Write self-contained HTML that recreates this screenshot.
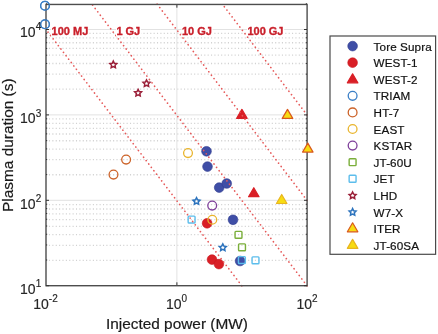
<!DOCTYPE html><html><head><meta charset="utf-8"><style>
html,body{margin:0;padding:0;background:#fff;width:438px;height:334px;overflow:hidden}
svg{display:block;filter:blur(0.35px)}
text{font-family:"Liberation Sans",sans-serif}
</style></head><body>
<svg width="438" height="334" viewBox="0 0 438 334">
<rect width="438" height="334" fill="#fff"/>
<g stroke="#d2d2d2" stroke-width="1.3" stroke-dasharray="1.1 2.276" stroke-dashoffset="0.426"><line x1="46.0" y1="260.39" x2="307.0" y2="260.39"/><line x1="46.0" y1="245.35" x2="307.0" y2="245.35"/><line x1="46.0" y1="234.68" x2="307.0" y2="234.68"/><line x1="46.0" y1="226.41" x2="307.0" y2="226.41"/><line x1="46.0" y1="219.65" x2="307.0" y2="219.65"/><line x1="46.0" y1="213.93" x2="307.0" y2="213.93"/><line x1="46.0" y1="208.98" x2="307.0" y2="208.98"/><line x1="46.0" y1="204.61" x2="307.0" y2="204.61"/><line x1="46.0" y1="174.74" x2="307.0" y2="174.74"/><line x1="46.0" y1="159.70" x2="307.0" y2="159.70"/><line x1="46.0" y1="149.03" x2="307.0" y2="149.03"/><line x1="46.0" y1="140.76" x2="307.0" y2="140.76"/><line x1="46.0" y1="134.00" x2="307.0" y2="134.00"/><line x1="46.0" y1="128.28" x2="307.0" y2="128.28"/><line x1="46.0" y1="123.33" x2="307.0" y2="123.33"/><line x1="46.0" y1="118.96" x2="307.0" y2="118.96"/><line x1="46.0" y1="89.19" x2="307.0" y2="89.19"/><line x1="46.0" y1="74.15" x2="307.0" y2="74.15"/><line x1="46.0" y1="63.48" x2="307.0" y2="63.48"/><line x1="46.0" y1="55.21" x2="307.0" y2="55.21"/><line x1="46.0" y1="48.45" x2="307.0" y2="48.45"/><line x1="46.0" y1="42.73" x2="307.0" y2="42.73"/><line x1="46.0" y1="37.78" x2="307.0" y2="37.78"/><line x1="46.0" y1="33.41" x2="307.0" y2="33.41"/></g>
<g stroke="#e2e2e2" stroke-width="1"><line x1="46.0" y1="200.30" x2="307.0" y2="200.30"/><line x1="46.0" y1="114.90" x2="307.0" y2="114.90"/><line x1="46.0" y1="29.50" x2="307.0" y2="29.50"/><line x1="176.90" y1="3.792038370295984" x2="176.90" y2="285.7"/></g>
<circle cx="126.1" cy="159.6" r="4.4" fill="none" stroke="#cc6228" stroke-width="1.3"/><circle cx="113.5" cy="174.6" r="4.4" fill="none" stroke="#cc6228" stroke-width="1.3"/><polygon points="113.30,61.05 114.37,63.22 116.77,63.57 115.04,65.26 115.45,67.65 113.30,66.53 111.15,67.65 111.56,65.26 109.83,63.57 112.23,63.22" fill="none" stroke="#9a1f38" stroke-width="1.5" stroke-linejoin="miter"/><polygon points="146.50,79.85 147.57,82.02 149.97,82.37 148.24,84.06 148.65,86.45 146.50,85.33 144.35,86.45 144.76,84.06 143.03,82.37 145.43,82.02" fill="none" stroke="#9a1f38" stroke-width="1.5" stroke-linejoin="miter"/><polygon points="138.10,89.35 139.17,91.52 141.57,91.87 139.84,93.56 140.25,95.95 138.10,94.83 135.95,95.95 136.36,93.56 134.63,91.87 137.03,91.52" fill="none" stroke="#9a1f38" stroke-width="1.5" stroke-linejoin="miter"/><circle cx="206.5" cy="151.3" r="4.85" fill="#3f4ea6" stroke="#2f3a8f" stroke-width="0.6"/><circle cx="207.5" cy="166.6" r="4.85" fill="#3f4ea6" stroke="#2f3a8f" stroke-width="0.6"/><circle cx="219.2" cy="187.6" r="4.85" fill="#3f4ea6" stroke="#2f3a8f" stroke-width="0.6"/><circle cx="226.7" cy="183.5" r="4.85" fill="#3f4ea6" stroke="#2f3a8f" stroke-width="0.6"/><circle cx="233" cy="219.8" r="4.85" fill="#3f4ea6" stroke="#2f3a8f" stroke-width="0.6"/><circle cx="240.1" cy="261" r="4.85" fill="#3f4ea6" stroke="#2f3a8f" stroke-width="0.6"/><circle cx="207.1" cy="223.3" r="4.85" fill="#d91f26" stroke="#c8141c" stroke-width="0.6"/><circle cx="212" cy="259.6" r="4.85" fill="#d91f26" stroke="#c8141c" stroke-width="0.6"/><circle cx="218.9" cy="264.1" r="4.85" fill="#d91f26" stroke="#c8141c" stroke-width="0.6"/><circle cx="188" cy="153.1" r="4.4" fill="none" stroke="#e9b52e" stroke-width="1.3"/><circle cx="212.3" cy="219.8" r="4.4" fill="none" stroke="#e9b52e" stroke-width="1.3"/><circle cx="212.2" cy="205.6" r="4.4" fill="none" stroke="#7e3f9a" stroke-width="1.3"/><polygon points="196.50,197.65 197.57,199.82 199.97,200.17 198.24,201.86 198.65,204.25 196.50,203.12 194.35,204.25 194.76,201.86 193.03,200.17 195.43,199.82" fill="none" stroke="#2c73bd" stroke-width="1.5" stroke-linejoin="miter"/><polygon points="222.80,243.95 223.87,246.12 226.27,246.47 224.54,248.16 224.95,250.55 222.80,249.43 220.65,250.55 221.06,248.16 219.33,246.47 221.73,246.12" fill="none" stroke="#2c73bd" stroke-width="1.5" stroke-linejoin="miter"/><rect x="235.05" y="231.35" width="6.9" height="6.9" rx="0.8" fill="none" stroke="#7aae3a" stroke-width="1.4"/><rect x="238.55" y="243.85" width="6.9" height="6.9" rx="0.8" fill="none" stroke="#7aae3a" stroke-width="1.4"/><rect x="188.15" y="216.15" width="6.9" height="6.9" rx="0.8" fill="none" stroke="#5cbdec" stroke-width="1.4"/><rect x="238.45" y="256.65" width="6.9" height="6.9" rx="0.8" fill="none" stroke="#5cbdec" stroke-width="1.4"/><rect x="252.05" y="256.85" width="6.9" height="6.9" rx="0.8" fill="none" stroke="#5cbdec" stroke-width="1.4"/><path d="M241.90 109.40L247.15 118.40L236.65 118.40Z" fill="#d91f26" stroke="#d91f26" stroke-width="1.2" stroke-linejoin="round"/><path d="M253.80 187.70L259.05 196.70L248.55 196.70Z" fill="#d91f26" stroke="#d91f26" stroke-width="1.2" stroke-linejoin="round"/><path d="M281.70 194.50L286.95 203.50L276.45 203.50Z" fill="#f7dc12" stroke="#e8b520" stroke-width="1.2" stroke-linejoin="round"/><circle cx="45" cy="5.8" r="4.4" fill="none" stroke="#3b7fc6" stroke-width="1.3"/><circle cx="45" cy="24.2" r="4.4" fill="none" stroke="#3b7fc6" stroke-width="1.3"/>
<g stroke="#e65a5a" stroke-width="1.75" stroke-dasharray="0.01 4.245" stroke-dashoffset="0" stroke-linecap="round"><line x2="46.00" y2="29.50" x1="241.75" y1="285.70"/><line x2="91.61" y2="3.79" x1="307.00" y1="285.70"/><line x2="156.86" y2="3.79" x1="307.00" y1="200.30"/><line x2="222.11" y2="3.79" x1="307.00" y1="114.90"/></g>
<rect x="46.0" y="4.45" width="261.1" height="281.25" fill="none" stroke="#4d4d4d" stroke-width="1.4"/>
<g stroke="#333" stroke-width="1"><line x1="46.0" y1="285.70" x2="49.0" y2="285.70"/><line x1="307.0" y1="285.70" x2="304.0" y2="285.70"/><line x1="46.0" y1="259.99" x2="47.2" y2="259.99"/><line x1="307.0" y1="259.99" x2="305.8" y2="259.99"/><line x1="46.0" y1="244.95" x2="47.2" y2="244.95"/><line x1="307.0" y1="244.95" x2="305.8" y2="244.95"/><line x1="46.0" y1="234.28" x2="47.2" y2="234.28"/><line x1="307.0" y1="234.28" x2="305.8" y2="234.28"/><line x1="46.0" y1="226.01" x2="47.2" y2="226.01"/><line x1="307.0" y1="226.01" x2="305.8" y2="226.01"/><line x1="46.0" y1="219.25" x2="47.2" y2="219.25"/><line x1="307.0" y1="219.25" x2="305.8" y2="219.25"/><line x1="46.0" y1="213.53" x2="47.2" y2="213.53"/><line x1="307.0" y1="213.53" x2="305.8" y2="213.53"/><line x1="46.0" y1="208.58" x2="47.2" y2="208.58"/><line x1="307.0" y1="208.58" x2="305.8" y2="208.58"/><line x1="46.0" y1="204.21" x2="47.2" y2="204.21"/><line x1="307.0" y1="204.21" x2="305.8" y2="204.21"/><line x1="46.0" y1="200.30" x2="49.0" y2="200.30"/><line x1="307.0" y1="200.30" x2="304.0" y2="200.30"/><line x1="46.0" y1="174.59" x2="47.2" y2="174.59"/><line x1="307.0" y1="174.59" x2="305.8" y2="174.59"/><line x1="46.0" y1="159.55" x2="47.2" y2="159.55"/><line x1="307.0" y1="159.55" x2="305.8" y2="159.55"/><line x1="46.0" y1="148.88" x2="47.2" y2="148.88"/><line x1="307.0" y1="148.88" x2="305.8" y2="148.88"/><line x1="46.0" y1="140.61" x2="47.2" y2="140.61"/><line x1="307.0" y1="140.61" x2="305.8" y2="140.61"/><line x1="46.0" y1="133.85" x2="47.2" y2="133.85"/><line x1="307.0" y1="133.85" x2="305.8" y2="133.85"/><line x1="46.0" y1="128.13" x2="47.2" y2="128.13"/><line x1="307.0" y1="128.13" x2="305.8" y2="128.13"/><line x1="46.0" y1="123.18" x2="47.2" y2="123.18"/><line x1="307.0" y1="123.18" x2="305.8" y2="123.18"/><line x1="46.0" y1="118.81" x2="47.2" y2="118.81"/><line x1="307.0" y1="118.81" x2="305.8" y2="118.81"/><line x1="46.0" y1="114.90" x2="49.0" y2="114.90"/><line x1="307.0" y1="114.90" x2="304.0" y2="114.90"/><line x1="46.0" y1="89.19" x2="47.2" y2="89.19"/><line x1="307.0" y1="89.19" x2="305.8" y2="89.19"/><line x1="46.0" y1="74.15" x2="47.2" y2="74.15"/><line x1="307.0" y1="74.15" x2="305.8" y2="74.15"/><line x1="46.0" y1="63.48" x2="47.2" y2="63.48"/><line x1="307.0" y1="63.48" x2="305.8" y2="63.48"/><line x1="46.0" y1="55.21" x2="47.2" y2="55.21"/><line x1="307.0" y1="55.21" x2="305.8" y2="55.21"/><line x1="46.0" y1="48.45" x2="47.2" y2="48.45"/><line x1="307.0" y1="48.45" x2="305.8" y2="48.45"/><line x1="46.0" y1="42.73" x2="47.2" y2="42.73"/><line x1="307.0" y1="42.73" x2="305.8" y2="42.73"/><line x1="46.0" y1="37.78" x2="47.2" y2="37.78"/><line x1="307.0" y1="37.78" x2="305.8" y2="37.78"/><line x1="46.0" y1="33.41" x2="47.2" y2="33.41"/><line x1="307.0" y1="33.41" x2="305.8" y2="33.41"/><line x1="46.0" y1="29.50" x2="49.0" y2="29.50"/><line x1="307.0" y1="29.50" x2="304.0" y2="29.50"/><line x1="46.0" y1="3.79" x2="47.2" y2="3.79"/><line x1="307.0" y1="3.79" x2="305.8" y2="3.79"/><line x1="176.9" y1="285" x2="176.9" y2="282.3"/><line x1="176.9" y1="5" x2="176.9" y2="7.7"/></g>
<path d="M287.50 109.40L292.75 118.40L282.25 118.40Z" fill="#f7dc12" stroke="#d9581c" stroke-width="1.2" stroke-linejoin="round"/><path d="M307.80 143.10L313.05 152.10L302.55 152.10Z" fill="#f7dc12" stroke="#d9581c" stroke-width="1.2" stroke-linejoin="round"/>
<circle cx="45" cy="5.8" r="4.4" fill="none" stroke="#3b7fc6" stroke-width="1.3"/><circle cx="45" cy="24.2" r="4.4" fill="none" stroke="#3b7fc6" stroke-width="1.3"/>
<rect x="51.2" y="25" width="37.0" height="11" fill="#fff"/>
<text x="51.6" y="34.7" font-size="11" font-weight="bold" fill="#c91f2a" stroke="#c91f2a" stroke-width="0.35">100 MJ</text>
<rect x="116" y="25" width="25.0" height="11" fill="#fff"/>
<text x="116.4" y="34.7" font-size="11" font-weight="bold" fill="#c91f2a" stroke="#c91f2a" stroke-width="0.35">1 GJ</text>
<rect x="181.6" y="25" width="31.1" height="11" fill="#fff"/>
<text x="182.0" y="34.7" font-size="11" font-weight="bold" fill="#c91f2a" stroke="#c91f2a" stroke-width="0.35">10 GJ</text>
<rect x="247" y="25" width="37.1" height="11" fill="#fff"/>
<text x="247.4" y="34.7" font-size="11" font-weight="bold" fill="#c91f2a" stroke="#c91f2a" stroke-width="0.35">100 GJ</text>
<text x="41.2" y="293.9" font-size="14" fill="#262626" stroke="#262626" stroke-width="0.15" text-anchor="end">10<tspan dy="-6.6" font-size="10">1</tspan></text>
<text x="41.2" y="208.49999999999997" font-size="14" fill="#262626" stroke="#262626" stroke-width="0.15" text-anchor="end">10<tspan dy="-6.6" font-size="10">2</tspan></text>
<text x="41.2" y="123.09999999999998" font-size="14" fill="#262626" stroke="#262626" stroke-width="0.15" text-anchor="end">10<tspan dy="-6.6" font-size="10">3</tspan></text>
<text x="41.2" y="36.699999999999946" font-size="14" fill="#262626" stroke="#262626" stroke-width="0.15" text-anchor="end">10<tspan dy="-6.6" font-size="10">4</tspan></text>
<text x="45.5" y="308.5" font-size="14" fill="#262626" stroke="#262626" stroke-width="0.15" text-anchor="middle">10<tspan dy="-6.6" font-size="10">-2</tspan></text>
<text x="176.5" y="308.5" font-size="14" fill="#262626" stroke="#262626" stroke-width="0.15" text-anchor="middle">10<tspan dy="-6.6" font-size="10">0</tspan></text>
<text x="307" y="308.5" font-size="14" fill="#262626" stroke="#262626" stroke-width="0.15" text-anchor="middle">10<tspan dy="-6.6" font-size="10">2</tspan></text>
<text x="176.9" y="328.7" font-size="15.4" fill="#1a1a1a" stroke="#1a1a1a" stroke-width="0.2" text-anchor="middle">Injected power (MW)</text>
<text transform="translate(12.6 145.2) rotate(-90)" font-size="15.4" fill="#1a1a1a" stroke="#1a1a1a" stroke-width="0.2" text-anchor="middle">Plasma duration (s)</text>
<rect x="330" y="36" width="105.6" height="218.3" fill="#fff" stroke="#4a4a4a" stroke-width="1.2"/>
<circle cx="352.6" cy="46.1" r="4.85" fill="#3f4ea6" stroke="#2f3a8f" stroke-width="0.6"/>
<text x="373.6" y="50.70" font-size="11.7" letter-spacing="0.1" fill="#111" stroke="#111" stroke-width="0.2">Tore Supra</text>
<circle cx="352.6" cy="62.68" r="4.85" fill="#d91f26" stroke="#c8141c" stroke-width="0.6"/>
<text x="373.6" y="67.28" font-size="11.7" letter-spacing="0.1" fill="#111" stroke="#111" stroke-width="0.2">WEST-1</text>
<path d="M352.60 73.86L357.85 82.86L347.35 82.86Z" fill="#d91f26" stroke="#d91f26" stroke-width="1.2" stroke-linejoin="round"/>
<text x="373.6" y="83.86" font-size="11.7" letter-spacing="0.1" fill="#111" stroke="#111" stroke-width="0.2">WEST-2</text>
<circle cx="352.6" cy="95.84" r="4.4" fill="none" stroke="#3b7fc6" stroke-width="1.3"/>
<text x="373.6" y="100.44" font-size="11.7" letter-spacing="0.1" fill="#111" stroke="#111" stroke-width="0.2">TRIAM</text>
<circle cx="352.6" cy="112.41999999999999" r="4.4" fill="none" stroke="#cc6228" stroke-width="1.3"/>
<text x="373.6" y="117.02" font-size="11.7" letter-spacing="0.1" fill="#111" stroke="#111" stroke-width="0.2">HT-7</text>
<circle cx="352.6" cy="129.0" r="4.4" fill="none" stroke="#e9b52e" stroke-width="1.3"/>
<text x="373.6" y="133.60" font-size="11.7" letter-spacing="0.1" fill="#111" stroke="#111" stroke-width="0.2">EAST</text>
<circle cx="352.6" cy="145.57999999999998" r="4.4" fill="none" stroke="#7e3f9a" stroke-width="1.3"/>
<text x="373.6" y="150.18" font-size="11.7" letter-spacing="0.1" fill="#111" stroke="#111" stroke-width="0.2">KSTAR</text>
<rect x="349.15" y="158.71" width="6.9" height="6.9" rx="0.8" fill="none" stroke="#7aae3a" stroke-width="1.4"/>
<text x="373.6" y="166.76" font-size="11.7" letter-spacing="0.1" fill="#111" stroke="#111" stroke-width="0.2">JT-60U</text>
<rect x="349.15" y="175.29" width="6.9" height="6.9" rx="0.8" fill="none" stroke="#5cbdec" stroke-width="1.4"/>
<text x="373.6" y="183.34" font-size="11.7" letter-spacing="0.1" fill="#111" stroke="#111" stroke-width="0.2">JET</text>
<polygon points="352.60,191.97 353.67,194.14 356.07,194.49 354.34,196.18 354.75,198.57 352.60,197.44 350.45,198.57 350.86,196.18 349.13,194.49 351.53,194.14" fill="none" stroke="#9a1f38" stroke-width="1.5" stroke-linejoin="miter"/>
<text x="373.6" y="199.92" font-size="11.7" letter-spacing="0.1" fill="#111" stroke="#111" stroke-width="0.2">LHD</text>
<polygon points="352.60,208.55 353.67,210.72 356.07,211.07 354.34,212.76 354.75,215.15 352.60,214.02 350.45,215.15 350.86,212.76 349.13,211.07 351.53,210.72" fill="none" stroke="#2c73bd" stroke-width="1.5" stroke-linejoin="miter"/>
<text x="373.6" y="216.50" font-size="11.7" letter-spacing="0.1" fill="#111" stroke="#111" stroke-width="0.2">W7-X</text>
<path d="M352.60 222.78L357.85 231.78L347.35 231.78Z" fill="#f7dc12" stroke="#d9581c" stroke-width="1.2" stroke-linejoin="round"/>
<text x="373.6" y="233.08" font-size="11.7" letter-spacing="0.1" fill="#111" stroke="#111" stroke-width="0.2">ITER</text>
<path d="M352.60 239.36L357.85 248.36L347.35 248.36Z" fill="#f7dc12" stroke="#e8b520" stroke-width="1.2" stroke-linejoin="round"/>
<text x="373.6" y="249.66" font-size="11.7" letter-spacing="0.1" fill="#111" stroke="#111" stroke-width="0.2">JT-60SA</text>
</svg></body></html>
